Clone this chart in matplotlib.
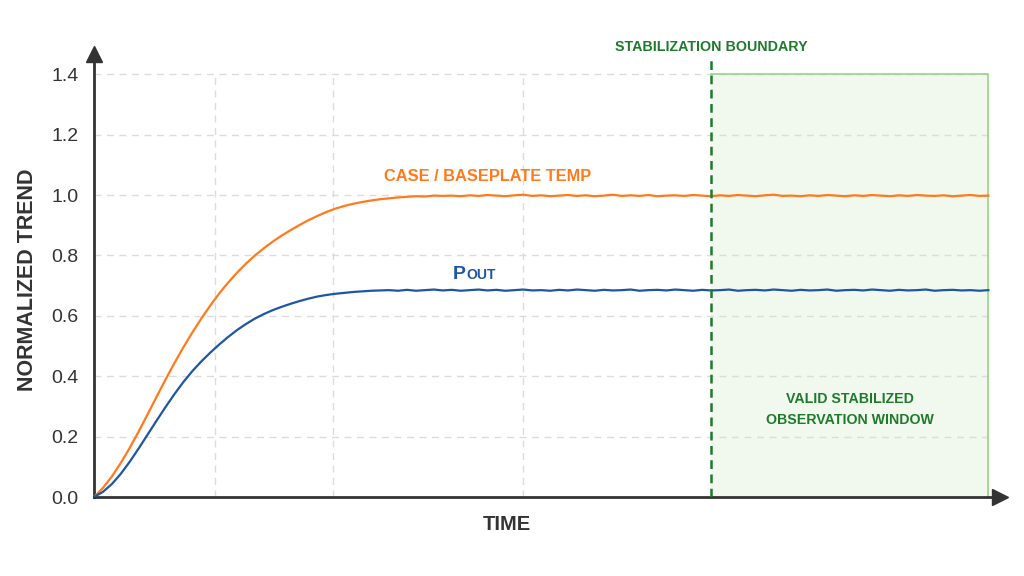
import numpy as np
import matplotlib.pyplot as plt

plt.rcParams['font.family'] = ['Liberation Sans', 'DejaVu Sans']

# time axis (arbitrary units, 0..100)
time = np.arange(0, 101)

case_temp = [
    0.000, 0.030, 0.068, 0.113, 0.163, 0.217, 0.274, 0.332, 0.389, 0.444,
    0.496, 0.545, 0.591, 0.634, 0.674, 0.710, 0.743, 0.773, 0.800, 0.824,
    0.846, 0.866, 0.884, 0.901, 0.917, 0.931, 0.944, 0.955, 0.964, 0.971,
    0.977, 0.982, 0.986, 0.989, 0.992, 0.994, 0.996, 0.995, 0.998, 0.997,
    0.998, 0.996, 0.999, 0.997, 1.000, 0.998, 0.996, 0.999, 1.001, 0.997,
    0.999, 0.996, 0.998, 1.000, 0.997, 0.999, 0.996, 0.998, 1.001, 0.997,
    0.999, 0.997, 1.000, 0.996, 0.998, 0.999, 0.997, 1.000, 0.998, 0.996,
    0.999, 0.997, 1.000, 0.998, 0.996, 0.999, 1.001, 0.997, 0.998, 0.996,
    0.999, 0.997, 1.000, 0.998, 0.996, 0.999, 0.997, 1.000, 0.998, 0.996,
    0.999, 0.997, 1.000, 0.998, 0.997, 0.999, 0.996, 0.998, 1.000, 0.997,
    0.998,
]

pout = [
    0.000, 0.017, 0.043, 0.077, 0.117, 0.161, 0.207, 0.253, 0.298, 0.341,
    0.381, 0.417, 0.449, 0.478, 0.505, 0.530, 0.553, 0.573, 0.591, 0.606,
    0.619, 0.630, 0.640, 0.649, 0.657, 0.664, 0.669, 0.673, 0.676, 0.679,
    0.681, 0.683, 0.684, 0.685, 0.683, 0.686, 0.683, 0.685, 0.687, 0.684,
    0.686, 0.683, 0.685, 0.687, 0.684, 0.686, 0.683, 0.685, 0.687, 0.684,
    0.685, 0.683, 0.686, 0.684, 0.687, 0.685, 0.683, 0.686, 0.684, 0.685,
    0.687, 0.683, 0.685, 0.686, 0.684, 0.687, 0.685, 0.683, 0.686, 0.684,
    0.685, 0.687, 0.683, 0.685, 0.686, 0.684, 0.687, 0.685, 0.683, 0.686,
    0.684, 0.685, 0.687, 0.683, 0.685, 0.686, 0.684, 0.687, 0.685, 0.683,
    0.686, 0.684, 0.685, 0.687, 0.683, 0.685, 0.686, 0.684, 0.685, 0.683,
    0.685,
]

y_ticks = [0.0, 0.2, 0.4, 0.6, 0.8, 1.0, 1.2, 1.4]
x_grid = [13.5, 26.7, 48.0]
boundary = 69.0
window_end = 100.0
window_top = 1.4

ORANGE = '#ff7a1c'
BLUE = '#1f55a5'
GREEN = '#1e7b2c'
DARK = '#333333'

fig = plt.figure(figsize=(10.24, 5.76), dpi=100)
ax = fig.add_axes([94 / 1024, 79 / 576, 906 / 1024, 443 / 576])
ax.set_xlim(0, 101.3)
ax.set_ylim(0, 1.467)

# stabilized window
ax.fill_between([boundary, window_end], 0, window_top, color='#f1f8ee', zorder=0)
ax.plot([boundary, window_end, window_end], [window_top, window_top, 0],
        color='#9ad38c', lw=1.2, zorder=1)

# grid
ax.hlines(y_ticks[1:], 0, window_end, colors='#dcdcdc', lw=1, linestyles=(0, (5, 4)), zorder=0.5)
ax.vlines(x_grid, 0, 1.4, colors='#dcdcdc', lw=1, linestyles=(0, (5, 4)), zorder=0.5)

ax.plot(time, case_temp, color=ORANGE, lw=1.6, zorder=3)
ax.plot(time, pout, color=BLUE, lw=1.6, zorder=3)

ax.vlines(boundary, 0, 1.447, colors=GREEN, lw=1.8, linestyles=(0, (3.5, 2.2)), zorder=4)

# axes with arrows
for s in ['top', 'right']:
    ax.spines[s].set_visible(False)
for s in ['left', 'bottom']:
    ax.spines[s].set_color(DARK)
    ax.spines[s].set_linewidth(2)
ax.plot(1, 0, '>', color=DARK, ms=11, transform=ax.transAxes, clip_on=False, zorder=5)
ax.plot(0, 1, '^', color=DARK, ms=11, transform=ax.transAxes, clip_on=False, zorder=5)

ax.set_xticks([])
ax.set_yticks(y_ticks)
ax.set_yticklabels([f'{v:.1f}' for v in y_ticks])
ax.tick_params(axis='y', length=0, pad=11, labelsize=14, labelcolor=DARK)

fig.text(28 / 1024, 1 - 280 / 576, 'NORMALIZED TREND', rotation=90, ha='center', va='center',
         fontsize=15.5, fontweight='bold', color=DARK)
fig.text(507 / 1024, 1 - 525 / 576, 'TIME', ha='center', va='center',
         fontsize=14.5, fontweight='bold', color=DARK)

ax.text(44.0, 1.06, 'CASE / BASEPLATE TEMP', ha='center', va='center',
        fontsize=11.8, fontweight='bold', color=ORANGE)
ax.text(41.6, 0.722, 'P', ha='right', va='baseline', fontsize=14, fontweight='bold', color=BLUE)
ax.text(41.6, 0.722, 'OUT', ha='left', va='baseline', fontsize=10, fontweight='bold', color=BLUE)
ax.text(boundary, 1.49, 'STABILIZATION BOUNDARY', ha='center', va='center',
        fontsize=10.3, fontweight='bold', color=GREEN)
ax.text(84.5, 0.29, 'VALID STABILIZED\nOBSERVATION WINDOW', ha='center', va='center',
        fontsize=10.2, fontweight='bold', color=GREEN, linespacing=1.7)

fig.savefig('out.png', dpi=100)
